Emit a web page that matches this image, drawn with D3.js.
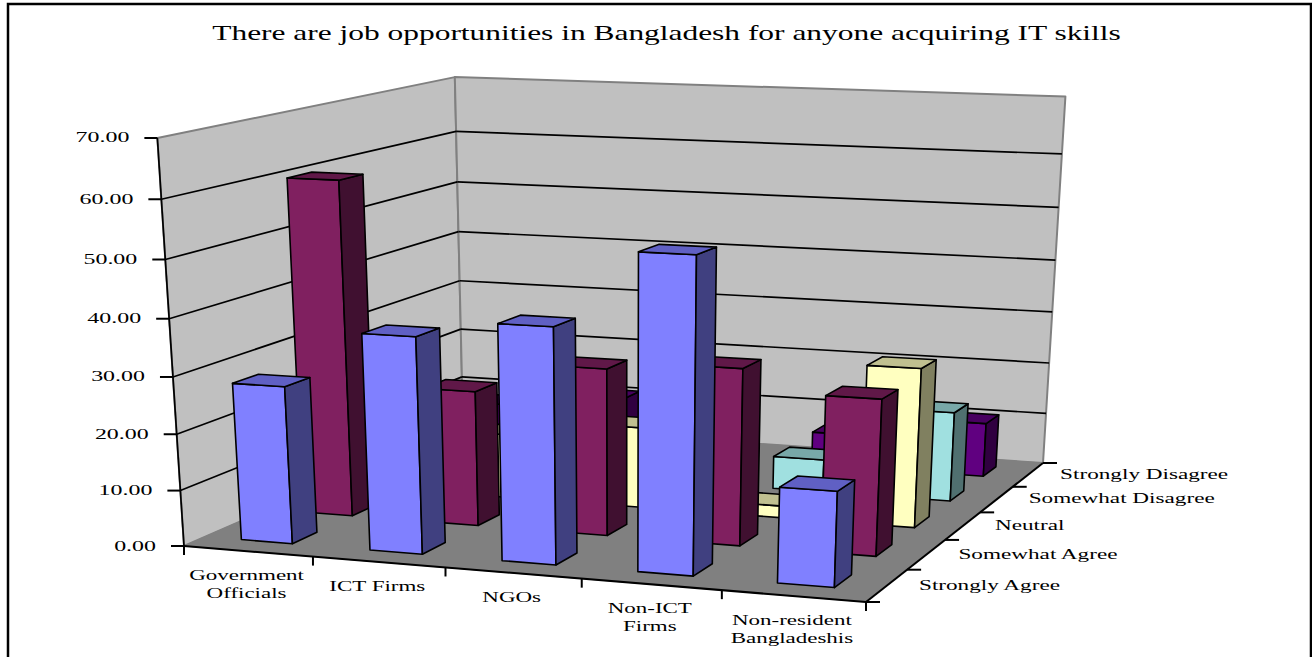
<!DOCTYPE html>
<html>
<head>
<meta charset="utf-8">
<script src="https://cdnjs.cloudflare.com/ajax/libs/d3/7.8.5/d3.min.js"></script>
<style>html,body{margin:0;padding:0;background:#fff;overflow:hidden}svg{display:block}text{font-family:"Liberation Serif",serif;fill:#000}</style>
</head>
<body>
<svg id="c" width="1312" height="657"></svg>
<script>
const title = "There are job opportunities in Bangladesh for anyone acquiring IT skills";
const categories = ["Government Officials","ICT Firms","NGOs","Non-ICT Firms","Non-resident Bangladeshis"];
const categoryLines = [["Government","Officials"],["ICT Firms"],["NGOs"],["Non-ICT","Firms"],["Non-resident","Bangladeshis"]];
const seriesNames = ["Strongly Agree","Somewhat Agree","Neutral","Somewhat Disagree","Strongly Disagree"];
const stronglyAgree    = [28, 38, 41, 54, 16.5];
const somewhatAgree    = [60.4, 24.5, 30, 31.5, 27.7];
const neutral          = [ 3, 12, 15, 2.2, 29];
const somewhatDisagree = [ 2, 11, 10, 6.2, 16.8];
const stronglyDisagree = [ 8, 10.6, 5, 6.5, 10.4];
const seriesValues = [stronglyAgree, somewhatAgree, neutral, somewhatDisagree, stronglyDisagree];
const valueTicks = [0,10,20,30,40,50,60,70];
const faceColors = [["#8080FF","#6060C4","#404080"],["#802060","#601848","#401030"],["#FFFFC0","#C0C090","#808060"],["#A0E0E0","#78A8A8","#507070"],["#600080","#480060","#300040"]];

// camera: floor corners plus the vanishing point of the vertical edges
const floorQuad = [[184,546],[866,602],[1043,463],[463,424]]; // front-left, front-right, back-right, back-left
const vanish = [625,7300];
const lift = -0.05697;

function homography(q){
  const [[x0,y0],[x1,y1],[x2,y2],[x3,y3]] = q;
  const sx=x0-x1+x2-x3, sy=y0-y1+y2-y3, dx1=x1-x2, dx2=x3-x2, dy1=y1-y2, dy2=y3-y2;
  const den=dx1*dy2-dx2*dy1;
  const g=(sx*dy2-dx2*sy)/den, h=(dx1*sy-sx*dy1)/den;
  const a=x1-x0+g*x1, b=x3-x0+h*x3, d=y1-y0+g*y1, e=y3-y0+h*y3;
  return (u,v,t)=>{
    const w=g*u+h*v+1, st=lift*t;
    return [(a*u+b*v+x0+st*vanish[0])/(w+st),(d*u+e*v+y0+st*vanish[1])/(w+st)];
  };
}
const project = homography(floorQuad);
const yScale = d3.scaleLinear().domain([0,70]).range([0,1]);
const uScale = d3.scaleBand().domain(categories).range([0,1]).paddingInner(0.6).paddingOuter(0.3).align(0.475);
const vScale = d3.scaleBand().domain(seriesNames).range([0,1]).paddingInner(0.6).paddingOuter(0.3).align(0.54);
const uBand = d3.scaleBand().domain(categories).range([0,1]);
const vBand = d3.scaleBand().domain(seriesNames).range([0,1]);
const P = (u,v,val)=>project(u,v,yScale(val));

const svg = d3.select("#c");
const line = d3.line();
const poly = (pts,fill,stroke,sw)=>svg.append("path").attr("d",line(pts)+"Z").attr("fill",fill).attr("stroke",stroke||"none").attr("stroke-width",sw||0).attr("stroke-linejoin","round");
const seg = (a,b,stroke,sw)=>svg.append("path").attr("d",line([a,b])).attr("stroke",stroke).attr("stroke-width",sw).attr("fill","none");
const label = (s,x,y,size,sx,anchor)=>svg.append("text").attr("transform",`translate(${x},${y}) scale(${sx},1)`).attr("font-size",size).attr("text-anchor",anchor).text(s);

// frame
svg.append("rect").attr("x",8).attr("y",4).attr("width",1303).attr("height",720).attr("fill","#fff").attr("stroke","#000").attr("stroke-width",2.5);
label(title,666.5,40,20,1.572,"middle");

// walls and floor
const maxV=70, backWallTop=70.6;
poly([P(0,0,0),P(0,1,0),P(0,1,backWallTop),P(0,0,maxV)],"#C0C0C0","#808080",2);
poly([P(0,1,0),P(1,1,0),P(1,1,backWallTop),P(0,1,backWallTop)],"#C0C0C0","#808080",2);
poly([P(0,0,0),P(1,0,0),P(1,1,0),P(0,1,0)],"#808080","#808080",1);

// gridlines
valueTicks.filter(t=>t>0&&t<maxV).forEach(t=>{
  seg(P(0,0,t),P(0,1,t),"#000",1.7);
  seg(P(0,1,t),P(1,1,t),"#000",1.7);
});

// axes
seg(P(0,0,0),P(0,0,maxV),"#000",1.7);
seg(P(0,0,0),P(1,0,0),"#000",2);
seg(P(1,0,0),P(1,1,0),"#000",2);
valueTicks.forEach(t=>{
  const p=P(0,0,t);
  seg([p[0]-13,p[1]],p,"#000",2);
  label(d3.format(".2f")(t),p[0]-28,p[1]+4.5,14.5,1.65,"end");
});
d3.range(categories.length+1).forEach(i=>{
  const p=P(i/categories.length,0,0);
  seg(p,[p[0],p[1]+9],"#000",2);
});
d3.range(seriesNames.length+1).forEach(i=>{
  const p=P(1,i/seriesNames.length,0);
  seg(p,[p[0]+14,p[1]],"#000",2);
});
categories.forEach((c,i)=>{
  const p=P(uBand(c)+uBand.bandwidth()/2,0,0);
  categoryLines[i].forEach((l,j)=>label(l,p[0]-1.5,p[1]+29+j*18,14.5,1.585,"middle"));
});
seriesNames.forEach(s=>{
  const p=P(1,vBand(s)+vBand.bandwidth()/2,0);
  label(s,p[0]+32,p[1]+4,14.5,1.6,"start");
});

// bars, back row first, left to right
d3.range(seriesNames.length-1,-1,-1).forEach(si=>{
  const s=seriesNames[si], v0=vScale(s), v1=v0+vScale.bandwidth(), col=faceColors[si];
  categories.forEach((c,ci)=>{
    const u0=uScale(c), u1=u0+uScale.bandwidth(), val=seriesValues[si][ci];
    poly([P(u0,v0,0),P(u1,v0,0),P(u1,v0,val),P(u0,v0,val)],col[0],"#000",1.6);
    poly([P(u1,v0,0),P(u1,v1,0),P(u1,v1,val),P(u1,v0,val)],col[2],"#000",1.6);
    poly([P(u0,v0,val),P(u1,v0,val),P(u1,v1,val),P(u0,v1,val)],col[1],"#000",1.6);
  });
});
</script>
</body>
</html>
